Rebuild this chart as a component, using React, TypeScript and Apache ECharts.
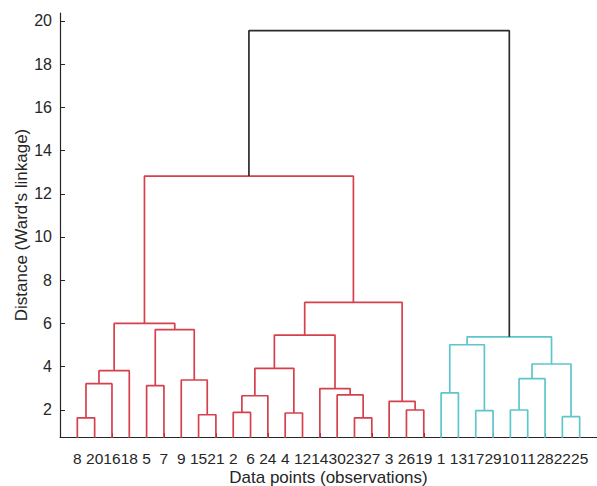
import React, { useEffect, useRef } from "react";
import * as echarts from "echarts";

// Leaf labels in the order they appear along the x axis
const leafOrder = [8, 20, 16, 18, 5, 7, 9, 15, 21, 2, 6, 24, 4, 12, 14, 30, 23, 27, 3, 26, 19, 1, 13, 17, 29, 10, 11, 28, 22, 25];
// Linkage (MATLAB style): leaves are 1..30, merge k creates node 30+k+1
const mergeA = [8, 31, 32, 5, 15, 9, 34, 33, 2, 39, 4, 40, 23, 30, 14, 42, 26, 3, 46, 38, 1, 17, 51, 10, 54, 22, 55, 53, 50];
const mergeB = [20, 16, 18, 7, 21, 35, 36, 37, 6, 24, 12, 41, 27, 43, 44, 45, 19, 47, 48, 49, 13, 29, 52, 11, 28, 25, 56, 57, 58];
const mergeHeight = [1.63, 3.21, 3.81, 3.12, 1.77, 3.38, 5.71, 6.0, 1.88, 2.65, 1.85, 3.92, 1.63, 2.69, 2.98, 5.46, 1.99, 2.39, 6.97, 12.82, 2.78, 1.96, 5.01, 1.99, 3.44, 1.68, 4.12, 5.38, 19.55];
const yTicks = [2, 4, 6, 8, 10, 12, 14, 16, 18, 20];

const groupColors = ["#d6404d", "#5cc6cc"];
const aboveColor = "#2b2b2b";
const FONT = "'Liberation Sans', Arial, sans-serif";

function buildSeries() {
  const nLeaves = leafOrder.length;
  const x: Record<number, number> = {};
  const h: Record<number, number> = {};
  const children: Record<number, [number, number]> = {};
  leafOrder.forEach((id, i) => {
    x[id] = i + 1;
    h[id] = 0;
  });
  mergeHeight.forEach((hv, k) => {
    const id = nLeaves + k + 1;
    const a = mergeA[k];
    const b = mergeB[k];
    x[id] = (x[a] + x[b]) / 2;
    h[id] = hv;
    children[id] = [a, b];
  });
  const threshold = 0.7 * Math.max(...mergeHeight);
  const linkColor: Record<number, string> = {};
  let next = 0;
  const visit = (id: number, color: string | null) => {
    if (!children[id]) return;
    let c = color;
    if (c === null && h[id] < threshold) {
      c = groupColors[next % groupColors.length];
      next++;
    }
    linkColor[id] = c === null ? aboveColor : c;
    visit(children[id][0], c);
    visit(children[id][1], c);
  };
  const root = nLeaves + mergeHeight.length;
  visit(root, null);

  return mergeHeight.map((hv, k) => {
    const id = nLeaves + k + 1;
    const a = mergeA[k];
    const b = mergeB[k];
    return {
      type: "line",
      silent: true,
      symbol: "none",
      clip: true,
      lineStyle: { color: linkColor[id], width: 1.7 },
      data: [
        [x[a], h[a]],
        [x[a], hv],
        [x[b], hv],
        [x[b], h[b]],
      ],
    };
  });
}

export default function App() {
  const ref = useRef<HTMLDivElement>(null);
  useEffect(() => {
    if (!ref.current) return;
    const chart = echarts.init(ref.current, null, { renderer: "svg" });
    const leafTicks = leafOrder.map((_, i) => i + 1);
    chart.setOption({
      animation: false,
      backgroundColor: "#ffffff",
      grid: { left: 60, right: 0, top: 13, bottom: 49, containLabel: false, outerBoundsMode: "none" },
      xAxis: {
        type: "value",
        min: 0,
        max: leafOrder.length + 1,
        name: "Data points (observations)",
        nameLocation: "middle",
        nameGap: 32,
        nameMoveOverlap: false,
        nameTextStyle: { fontFamily: FONT, fontSize: 17, color: "#262626" },
        axisLine: { show: true, lineStyle: { color: "#262626", width: 1.2 } },
        axisTick: { show: true, inside: true, length: 4, customValues: leafTicks, lineStyle: { color: "#262626" } },
        axisLabel: {
          customValues: leafTicks,
          formatter: (v: number) => {
            const i = Math.round(v) - 1;
            return i >= 0 && i < leafOrder.length ? String(leafOrder[i]) : "";
          },
          fontFamily: FONT,
          fontSize: 15.5,
          color: "#262626",
          margin: 13,
          hideOverlap: false,
        },
        splitLine: { show: false },
      },
      yAxis: {
        type: "value",
        min: 0.74,
        max: 20.37,
        name: "Distance (Ward's linkage)",
        nameLocation: "middle",
        nameGap: 30,
        nameMoveOverlap: false,
        nameTextStyle: { fontFamily: FONT, fontSize: 17, color: "#262626" },
        axisLine: { show: true, lineStyle: { color: "#262626", width: 1.2 } },
        axisTick: { show: true, inside: true, length: 5, customValues: yTicks, lineStyle: { color: "#262626" } },
        axisLabel: {
          customValues: yTicks,
          fontFamily: FONT,
          fontSize: 16,
          color: "#262626",
          margin: 8,
        },
        splitLine: { show: false },
      },
      series: buildSeries(),
    });
    return () => chart.dispose();
  }, []);
  return <div ref={ref} style={{ width: 597, height: 486, position: "absolute", left: 0, top: 0 }} />;
}
